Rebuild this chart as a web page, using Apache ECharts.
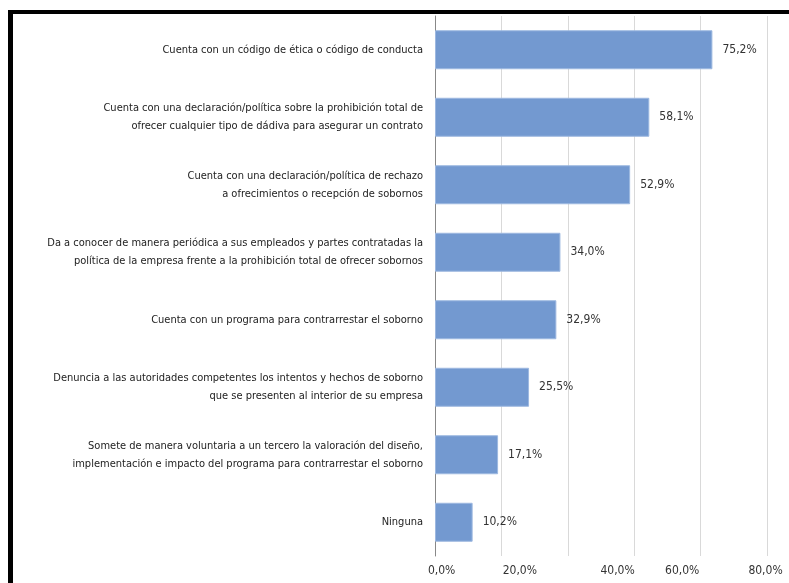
<!DOCTYPE html>
<html>
<head>
<meta charset="utf-8">
<script src="https://cdn.jsdelivr.net/npm/echarts@6/dist/echarts.min.js"></script>
<style>
html,body{margin:0;padding:0;background:#fff;}
#chart{width:789px;height:583px;}
</style>
</head>
<body>
<div id="chart"></div>
<script>
const categories = [
  "Cuenta con un código de ética o código de conducta",
  "Cuenta con una declaración/política sobre la prohibición total de\nofrecer cualquier tipo de dádiva para asegurar un contrato",
  "Cuenta con una declaración/política de rechazo\na ofrecimientos o recepción de sobornos",
  "Da a conocer de manera periódica a sus empleados y partes contratadas la\npolítica de la empresa frente a la prohibición total de ofrecer sobornos",
  "Cuenta con un programa para contrarrestar el soborno",
  "Denuncia a las autoridades competentes los intentos y hechos de soborno\nque se presenten al interior de su empresa",
  "Somete de manera voluntaria a un tercero la valoración del diseño,\nimplementación e impacto del programa para contrarrestar el soborno",
  "Ninguna"
];
const values = [75.2, 58.1, 52.9, 34.0, 32.9, 25.5, 17.1, 10.2];
const tickLabels = ["0,0%", "20,0%", "40,0%", "60,0%", "80,0%"];
// where each tick label sits along the value scale in the reference
const tickLabelAt = [1.8, 23, 49.5, 67, 89.6];

const FONT = '"DejaVu Sans Condensed", "Liberation Sans Narrow", "Noto Sans", sans-serif';
const fmt = v => v.toFixed(1).replace('.', ',') + '%';

const chart = echarts.init(document.getElementById('chart'), null, {renderer: 'canvas'});
chart.setOption({
  backgroundColor: '#fff',
  animation: false,
  grid: {left: 435, right: 22, top: 16, bottom: 27, containLabel: false, outerBoundsMode: 'none'},
  xAxis: [
    {
      type: 'value', min: 0, max: 90, interval: 18,
      axisLine: {show: false}, axisTick: {show: false},
      axisLabel: {show: false},
      splitLine: {show: true, lineStyle: {color: '#d9d9d9', width: 1}}
    },
    {
      type: 'value', min: 0, max: 90, position: 'bottom',
      axisLine: {show: false}, axisTick: {show: false},
      splitLine: {show: false},
      axisLabel: {
        show: true,
        customValues: tickLabelAt,
        formatter: v => tickLabels[tickLabelAt.indexOf(v)] || '',
        fontFamily: FONT, fontSize: 12, color: '#333', margin: 9
      }
    }
  ],
  yAxis: {
    type: 'category', inverse: true, data: categories,
    axisLine: {show: true, lineStyle: {color: '#888', width: 1}},
    axisTick: {show: false},
    axisLabel: {fontFamily: FONT, fontSize: 11, color: '#222', margin: 12, lineHeight: 18, align: 'right'}
  },
  series: [{
    type: 'bar', data: values, xAxisIndex: 0,
    barWidth: 39,
    itemStyle: {color: '#7399D0', borderColor: '#9db8e0', borderWidth: 1},
    label: {show: true, position: 'right', distance: 10, formatter: p => fmt(p.value), fontFamily: FONT, fontSize: 12, color: '#333'}
  }],
  graphic: [
    {type: 'rect', shape: {x: 8, y: 10, width: 790, height: 4}, style: {fill: '#000'}},
    {type: 'rect', shape: {x: 8, y: 10, width: 5, height: 600}, style: {fill: '#000'}}
  ]
});
</script>
</body>
</html>
